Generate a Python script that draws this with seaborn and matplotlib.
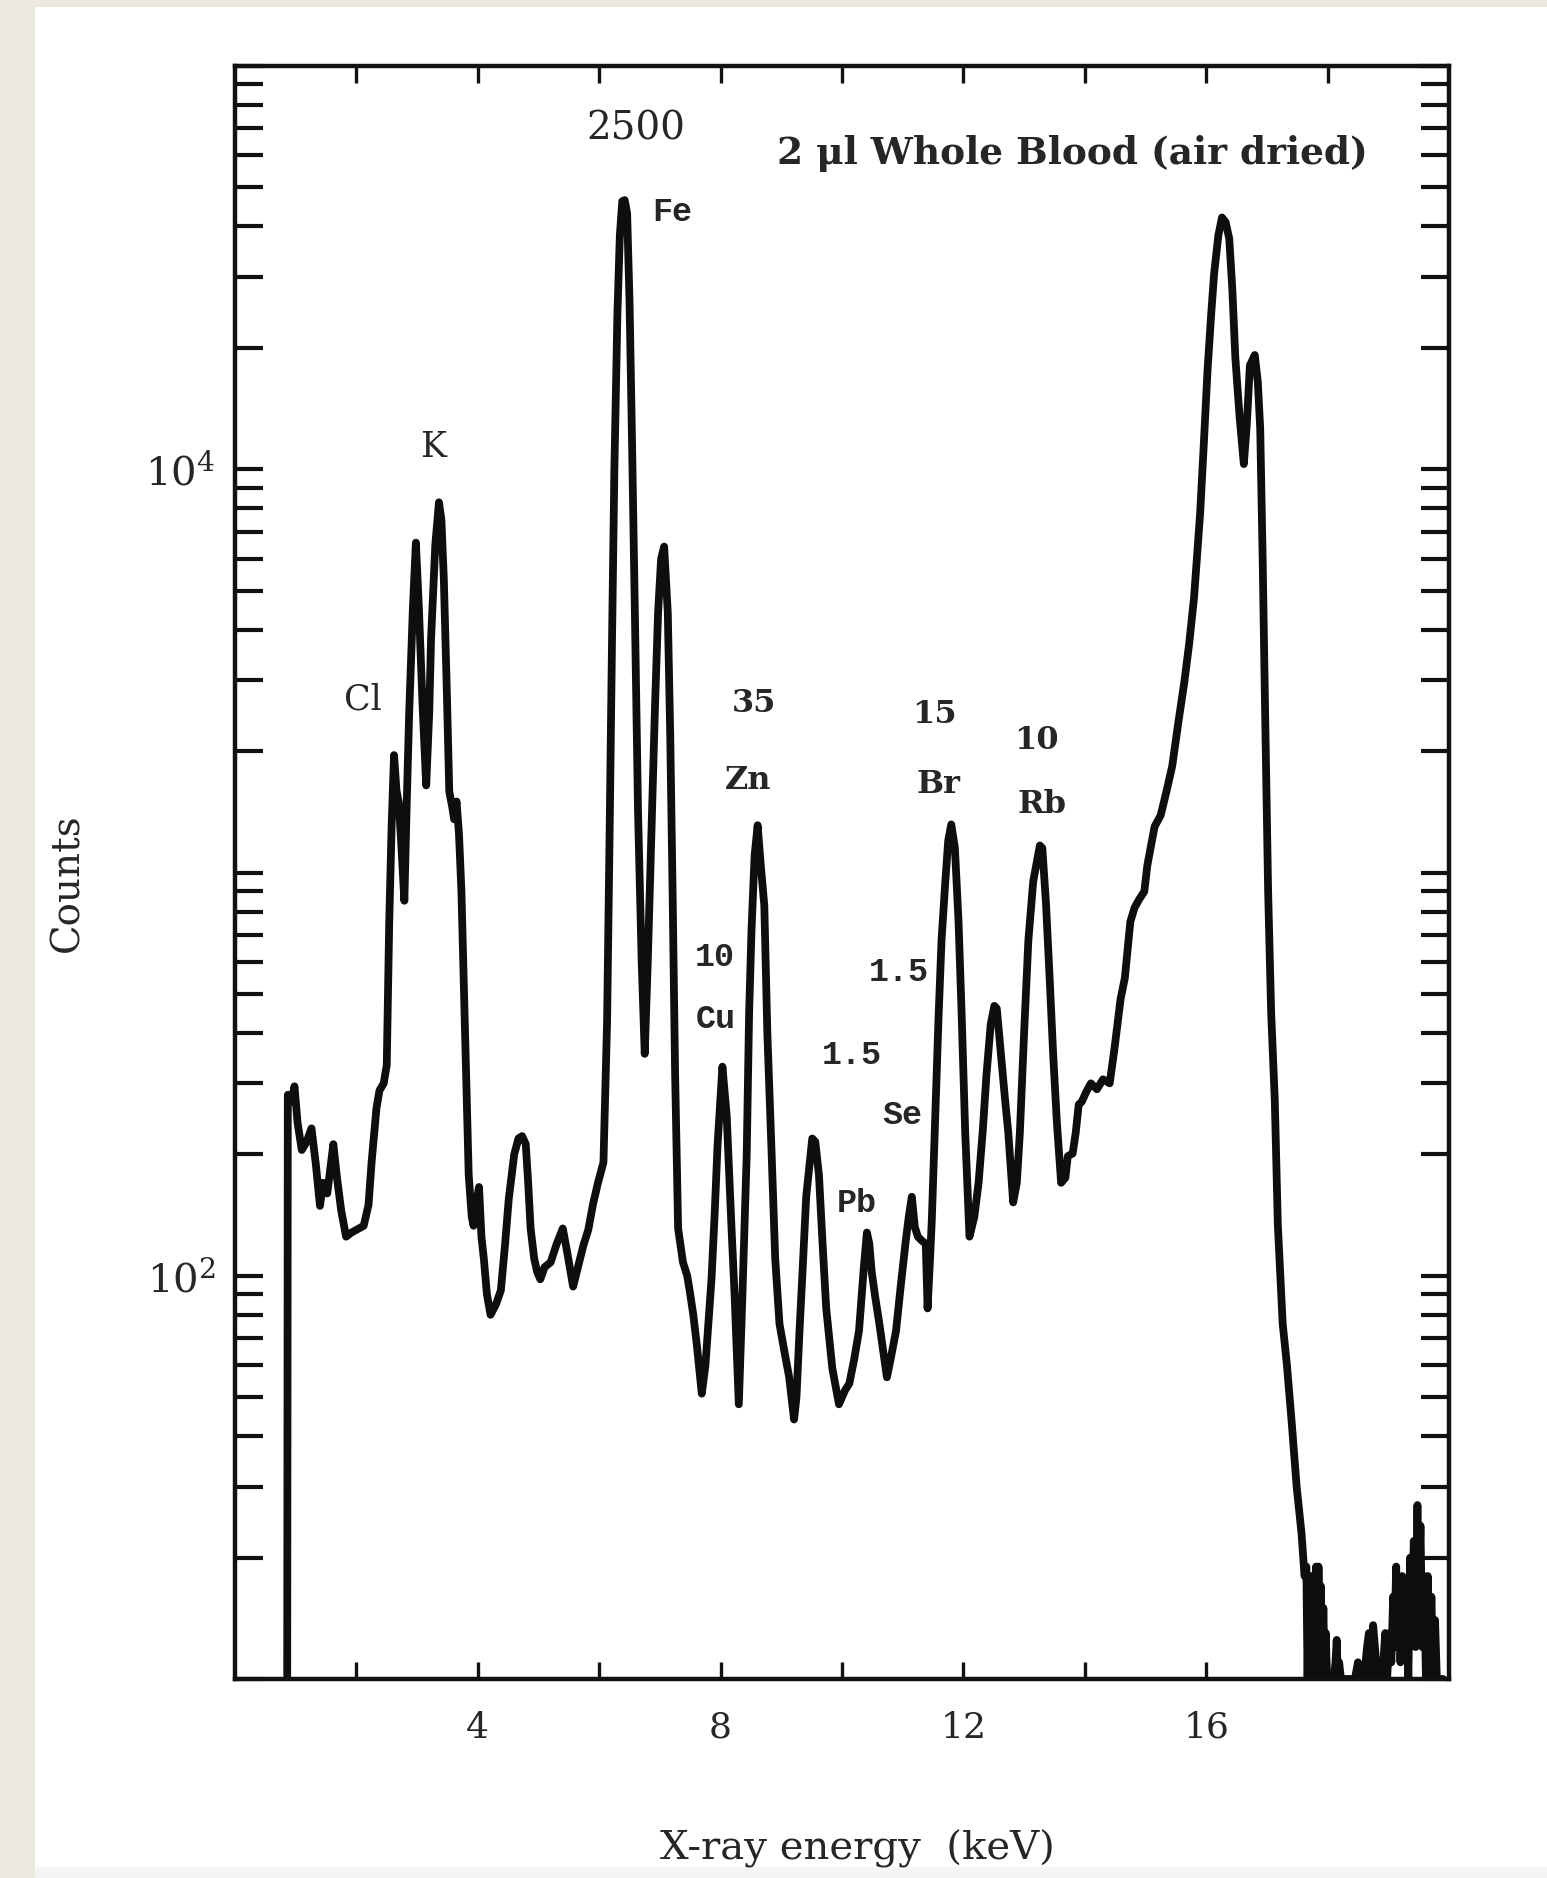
import numpy as np
import pandas as pd
import matplotlib
matplotlib.use("Agg")
import matplotlib.pyplot as plt
from matplotlib.patches import Rectangle
from matplotlib.ticker import LogLocator, NullFormatter, FixedLocator, FixedFormatter
import seaborn as sns

# ---------------- data ----------------
energy_kev = [
    0.86, 0.87, 0.93, 0.98, 1.03, 1.10, 1.18, 1.26, 1.33, 1.40, 1.45, 1.52, 1.62, 1.68,
    1.75, 1.83, 1.92, 2.00, 2.12, 2.20, 2.25, 2.33, 2.38, 2.45, 2.50, 2.54, 2.58, 2.62,
    2.66, 2.70, 2.75, 2.79, 2.83, 2.87, 2.93, 2.98, 3.03, 3.09, 3.15, 3.20, 3.23, 3.30,
    3.36, 3.40, 3.44, 3.49, 3.53, 3.58, 3.61, 3.65, 3.69, 3.73, 3.77, 3.81, 3.85, 3.90,
    3.93, 3.97, 4.02, 4.06, 4.10, 4.15, 4.21, 4.30, 4.38, 4.45, 4.51, 4.60, 4.67, 4.73,
    4.79, 4.83, 4.87, 4.93, 4.98, 5.03, 5.10, 5.20, 5.30, 5.40, 5.47, 5.57, 5.65, 5.74,
    5.82, 5.90, 5.98, 6.07, 6.13, 6.17, 6.21, 6.25, 6.30, 6.34, 6.38, 6.42, 6.46, 6.50,
    6.54, 6.59, 6.64, 6.70, 6.75, 6.80, 6.87, 6.92, 6.97, 7.02, 7.07, 7.13, 7.17, 7.21,
    7.25, 7.30, 7.38, 7.45, 7.49, 7.55, 7.61, 7.69, 7.75, 7.85, 7.90, 7.95, 8.03, 8.10,
    8.18, 8.23, 8.30, 8.36, 8.43, 8.47, 8.51, 8.56, 8.61, 8.66, 8.72, 8.77, 8.84, 8.90,
    8.97, 9.05, 9.13, 9.21, 9.25, 9.30, 9.36, 9.41, 9.51, 9.56, 9.62, 9.68, 9.74, 9.84,
    9.95, 10.05, 10.12, 10.20, 10.28, 10.36, 10.41, 10.45, 10.49, 10.55, 10.61, 10.68,
    10.74, 10.80, 10.89, 10.97, 11.05, 11.10, 11.15, 11.20, 11.25, 11.32, 11.38, 11.41,
    11.45, 11.48, 11.54, 11.59, 11.64, 11.70, 11.75, 11.80, 11.86, 11.92, 11.97, 12.03,
    12.10, 12.18, 12.25, 12.32, 12.38, 12.45, 12.51, 12.55, 12.62, 12.68, 12.74, 12.82,
    12.88, 12.93, 13.00, 13.07, 13.15, 13.26, 13.30, 13.36, 13.42, 13.48, 13.54, 13.61,
    13.68, 13.72, 13.80, 13.85, 13.90, 13.95, 14.02, 14.10, 14.20, 14.30, 14.41, 14.49,
    14.59, 14.66, 14.75, 14.82, 14.90, 14.98, 15.03, 15.15, 15.25, 15.35, 15.44, 15.54,
    15.64, 15.72, 15.80, 15.90, 15.96, 16.02, 16.08, 16.13, 16.20, 16.26, 16.32, 16.38,
    16.43, 16.48, 16.55, 16.62, 16.67, 16.72, 16.80, 16.85, 16.89, 16.93, 16.97, 17.02,
    17.07, 17.13, 17.18, 17.26, 17.33, 17.41, 17.49, 17.57, 17.62,
    17.65, 17.67, 17.69, 17.71, 17.73, 17.75, 17.77, 17.79, 17.81, 17.83, 17.85, 17.87,
    17.89, 17.91, 17.93, 17.95, 17.97, 17.99, 18.05, 18.10, 18.13, 18.15, 18.17, 18.19,
    18.22, 18.35, 18.45, 18.50, 18.55, 18.60, 18.65, 18.68, 18.72, 18.75, 18.78, 18.82,
    18.90, 18.95, 18.98, 19.02, 19.05, 19.08, 19.10, 19.13, 19.15, 19.18, 19.20, 19.23,
    19.26, 19.30, 19.33, 19.36, 19.39, 19.42, 19.45, 19.48, 19.50, 19.53, 19.56, 19.59,
    19.62, 19.65, 19.68, 19.71, 19.74, 19.77, 19.80, 19.85, 19.90,
]
counts = [
    10, 281, 270, 295, 240, 205, 215, 232, 190, 149, 170, 160, 212, 175,
    145, 125, 128, 130, 133, 150, 191, 260, 288, 300, 333, 743, 1300, 1955,
    1600, 1486, 1100, 851, 1500, 2500, 4500, 6577, 4508, 2600, 1644, 2500, 3800, 6500,
    8280, 7500, 5360, 2800, 1589, 1450, 1355, 1500, 1245, 900, 524, 300, 178, 140,
    133, 150, 166, 125, 110, 90, 80, 85, 92, 120, 155, 200, 219, 222,
    212, 170, 131, 110, 102, 98, 105, 108, 120, 131, 115, 94, 105, 119,
    130, 151, 170, 191, 428, 1200, 3650, 10000, 24300, 38000, 46200, 46500, 43100, 26000,
    11900, 4200, 1410, 600, 355, 600, 1410, 2600, 4410, 6000, 6430, 4410, 2200, 877,
    320, 131, 108, 100, 92, 80, 67, 51, 60, 98, 140, 211, 330, 250,
    131, 90, 48, 90, 200, 450, 726, 1100, 1310, 1050, 828, 400, 202, 110,
    76, 65, 56, 44, 50, 73, 110, 157, 219, 215, 178, 120, 83, 59,
    48, 52, 54, 62, 73, 105, 128, 120, 102, 88, 77, 65,
    56, 62, 73, 95, 122, 140, 157, 132, 125, 122, 120, 83,
    110, 138, 260, 436, 680, 940, 1200, 1316, 1150, 755, 450, 226,
    125, 140, 170, 230, 315, 420, 467, 460, 351, 280, 226, 152,
    170, 226, 400, 678, 950, 1167, 1150, 841, 550, 351, 240, 170,
    175, 198, 201, 226, 266, 270, 285, 300, 290, 307, 300, 367,
    486, 548, 755, 818, 860, 897, 1041, 1300, 1386, 1600, 1836, 2350,
    2970, 3700, 4810, 7780, 11500, 17400, 24000, 30500, 38000, 42100, 41000, 37300,
    28000, 18900, 13500, 10300, 13000, 18100, 19200, 16500, 12600, 6000, 2530, 900,
    450, 272, 134, 76, 60, 43, 30, 23, 18,
    19, 10, 17, 10, 18, 11, 16, 10, 19, 10, 19, 12,
    17, 10, 15, 10, 13, 10, 10, 10, 11, 12.5, 10, 11,
    10, 10, 10, 11, 10.5, 10, 12, 13, 10, 13.6, 12, 10,
    10, 13, 10, 13, 11, 16, 12, 19, 12, 17, 11, 18,
    12, 16, 10, 20, 14, 22, 12, 27, 15, 24, 12, 18,
    10, 18, 11, 16, 10, 14, 10, 10, 10,
]

x_tick_values = [2, 4, 6, 8, 10, 12, 14, 16, 18]
x_tick_labels = ["", "4", "", "8", "", "12", "", "16", ""]
y_tick_values = [10, 100, 1000, 10000, 100000]
y_tick_labels = ["", r"$10^2$", "", r"$10^4$", ""]

# annotations: (text, x keV, y counts, style)
ann_text = ["2500", "Fe", "K", "Cl", "35", "Zn", "15", "Br", "10", "Rb",
            "10", "Cu", "1.5", "1.5", "Se", "Pb"]
ann_x = [6.6, 7.21, 3.27, 2.11, 8.55, 8.45, 11.53, 11.59, 13.2, 13.3,
         7.9, 7.92, 10.94, 10.16, 11.0, 10.25]
ann_y = [69700, 43200, 11350, 2690, 2630, 1694, 2470, 1652, 2120, 1476,
         615, 431, 564, 351, 249, 151]
ann_style = ["num", "mono", "serif", "serif", "bold", "bold", "bold", "bold", "bold", "bold",
             "mono", "mono", "mono", "mono", "mono", "mono"]

title_text = "2 \u03bcl Whole Blood (air dried)"

# ---------------- figure ----------------
sns.set_style("white")
plt.rcParams["font.family"] = ["DejaVu Serif", "DejaVu Sans"]
plt.rcParams["mathtext.fontset"] = "dejavuserif"

W, H = 1547, 1878
fig = plt.figure(figsize=(W / 100, H / 100), dpi=100)
fig.patch.set_facecolor("#ECE8DE")
fig.add_artist(Rectangle((35 / W, 11 / H), 1 - 35 / W, (H - 7 - 11) / H,
                         transform=fig.transFigure, facecolor="white",
                         edgecolor="none", zorder=-2))
fig.add_artist(Rectangle((35 / W, 0), 1 - 35 / W, 11 / H,
                         transform=fig.transFigure, facecolor="#F5F5F4",
                         edgecolor="none", zorder=-2))

ax = fig.add_axes([235 / W, 1 - 1679 / H, (1449 - 235) / W, (1679 - 66) / H])
ax.set_facecolor("white")
ax.set_yscale("log")

df = pd.DataFrame({"energy": energy_kev, "counts": counts})
sns.lineplot(data=df, x="energy", y="counts", ax=ax, color="#0e0e0e",
             linewidth=5.6, estimator=None, sort=False)

ax.set_xlim(0, 20)
ax.set_ylim(10, 1e5)

ax.xaxis.set_major_locator(FixedLocator(x_tick_values))
ax.xaxis.set_major_formatter(FixedFormatter(x_tick_labels))
ax.yaxis.set_major_locator(FixedLocator(y_tick_values))
ax.yaxis.set_major_formatter(FixedFormatter(y_tick_labels))
ax.yaxis.set_minor_locator(LogLocator(base=10, subs=np.arange(2, 10)))
ax.yaxis.set_minor_formatter(NullFormatter())
ax.xaxis.set_minor_locator(FixedLocator([]))

ax.tick_params(axis="x", which="major", direction="in", length=12, width=2.4,
               top=True, bottom=True, labelsize=26, pad=23, color="#111111")
ax.tick_params(axis="y", which="both", direction="in", length=20, width=3.0,
               left=True, right=True, labelsize=29, pad=14, color="#111111")

for s in ax.spines.values():
    s.set_linewidth(3.2)
    s.set_color("#111111")

ax.set_xlabel("X-ray energy  (keV)", fontsize=29)
ax.xaxis.set_label_coords((857 - 235) / 1214, (1679 - 1830) / 1613)
ax.set_ylabel("Counts", fontsize=28)
ax.yaxis.set_label_coords((86 - 235) / 1214, (1679 - 883) / 1613)

for t, x, y, st in zip(ann_text, ann_x, ann_y, ann_style):
    if st == "mono":
        ax.text(x, y, t, ha="center", va="center", fontsize=24,
                family="Liberation Mono", weight="bold")
    elif st == "bold":
        ax.text(x, y, t, ha="center", va="center", fontsize=23, weight="bold")
    elif st == "num":
        ax.text(x, y, t, ha="center", va="center", fontsize=28)
    else:
        ax.text(x, y, t, ha="center", va="center", fontsize=25)

ax.text(13.8, 60800, title_text, ha="center", va="center", fontsize=27, weight="bold")

fig.savefig("out.png", dpi=100, facecolor=fig.get_facecolor())
